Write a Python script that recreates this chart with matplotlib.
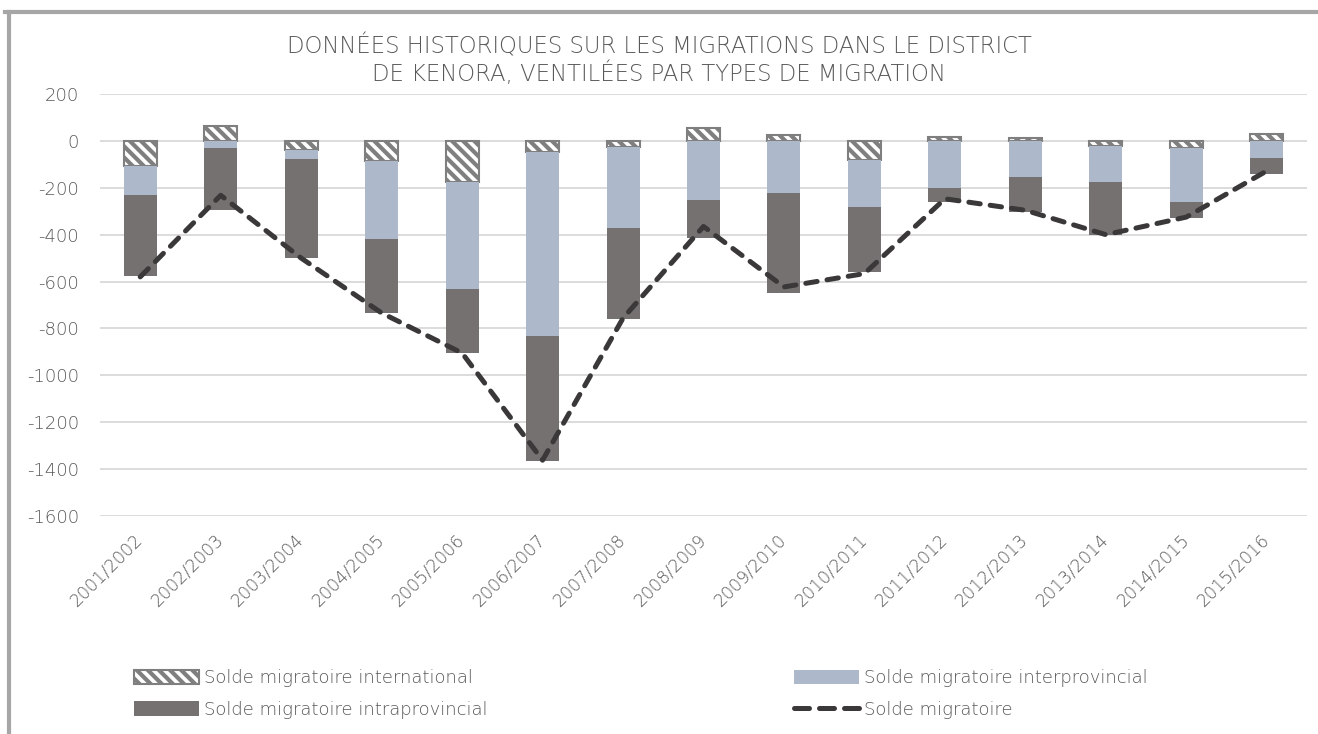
import matplotlib
matplotlib.use('Agg')
import matplotlib.pyplot as plt
import numpy as np
from matplotlib.lines import Line2D
from matplotlib.patches import Patch

years = ['2001/2002', '2002/2003', '2003/2004', '2004/2005', '2005/2006',
         '2006/2007', '2007/2008', '2008/2009', '2009/2010', '2010/2011',
         '2011/2012', '2012/2013', '2013/2014', '2014/2015', '2015/2016']
international = [-108, 64, -37, -85, -175, -47, -26, 57, 23, -82, 17, 11, -23, -30, 31]
interprovincial = [-124, -31, -40, -333, -455, -785, -345, -250, -221, -200, -202, -152, -154, -229, -72]
intraprovincial = [-346, -262, -424, -316, -276, -533, -389, -166, -427, -279, -60, -152, -223, -71, -71]
solde = [-580, -232, -500, -734, -905, -1362, -756, -365, -623, -566, -247, -296, -400, -325, -128]
yticks = [200, 0, -200, -400, -600, -800, -1000, -1200, -1400, -1600]

txt = '#595959'
c_inter = '#ADB9CA'
c_intra = '#767171'
c_hatch = '#7F7F7F'

plt.rcParams['font.family'] = ['DejaVu Sans']
plt.rcParams['font.weight'] = 'light'
plt.rcParams['hatch.linewidth'] = 3.0

fig = plt.figure(figsize=(13.18, 7.34), dpi=100)
ax = fig.add_axes([100 / 1318, 1 - 516 / 734, 1207 / 1318, 422 / 734])

x = np.arange(len(years))
w = 0.41
intl = np.array(international)
inter = np.array(interprovincial)
intra = np.array(intraprovincial)

base_inter = np.minimum(intl, 0)
base_intra = base_inter + inter

ax.bar(x, intl, w, color='white', edgecolor=c_hatch, hatch='\\\\\\', linewidth=1.5, zorder=3)
ax.bar(x, inter, w, bottom=base_inter, color=c_inter, zorder=3)
ax.bar(x, intra, w, bottom=base_intra, color=c_intra, zorder=3)
ax.plot(x, solde, color='#3A3838', lw=3.6, linestyle=(0, (2.3, 2.0)),
        dash_capstyle='round', zorder=4)

ax.set_xlim(-0.5, len(years) - 0.5)
ax.set_ylim(-1600, 200)
ax.set_yticks(yticks)
ax.set_yticklabels([str(v) for v in yticks])
ax.yaxis.grid(True, color='#D9D9D9', lw=1.3, zorder=0)
ax.tick_params(axis='y', length=0, pad=15, labelsize=13, labelcolor=txt)
ax.set_xticks(x)
ax.set_xticklabels(years, rotation=45, ha='right', va='center', rotation_mode='anchor')
ax.tick_params(axis='x', length=0, pad=15, labelsize=12.5, labelcolor=txt)
for s in ax.spines.values():
    s.set_visible(False)

fig.text(0.5, 1 - 46 / 734, 'DONNÉES HISTORIQUES SUR LES MIGRATIONS DANS LE DISTRICT',
         ha='center', va='center', fontsize=16.4, color=txt)
fig.text(0.5, 1 - 74 / 734, 'DE KENORA, VENTILÉES PAR TYPES DE MIGRATION',
         ha='center', va='center', fontsize=16.4, color=txt)

h_intl = Patch(facecolor='white', edgecolor=c_hatch, hatch='\\\\\\', linewidth=1.5)
h_inter = Patch(facecolor=c_inter)
h_intra = Patch(facecolor=c_intra)
h_solde = Line2D([], [], color='#3A3838', lw=3.6, linestyle=(0, (3.0, 2.0)), dash_capstyle='round')

leg_kw = dict(frameon=False, fontsize=13, labelcolor=txt, handlelength=3.6, handleheight=0.9,
              handletextpad=0.3, labelspacing=0.75, borderpad=0, loc='center left')
fig.legend([h_intl, h_intra], ['Solde migratoire international', 'Solde migratoire intraprovincial'],
           bbox_to_anchor=(125 / 1318, 1 - 694 / 734), **leg_kw)
fig.legend([h_inter, h_solde], ['Solde migratoire interprovincial', 'Solde migratoire'],
           bbox_to_anchor=(785 / 1318, 1 - 694 / 734), **leg_kw)

# chart area border (only top and left visible)
fig.add_artist(Line2D([5 / 1318, 1], [1 - 12 / 734, 1 - 12 / 734], color='#A6A6A6', lw=3,
                      transform=fig.transFigure))
fig.add_artist(Line2D([9 / 1318, 9 / 1318], [1 - 12 / 734, 0], color='#A6A6A6', lw=3,
                      transform=fig.transFigure))

fig.savefig('out.png', dpi=100)
